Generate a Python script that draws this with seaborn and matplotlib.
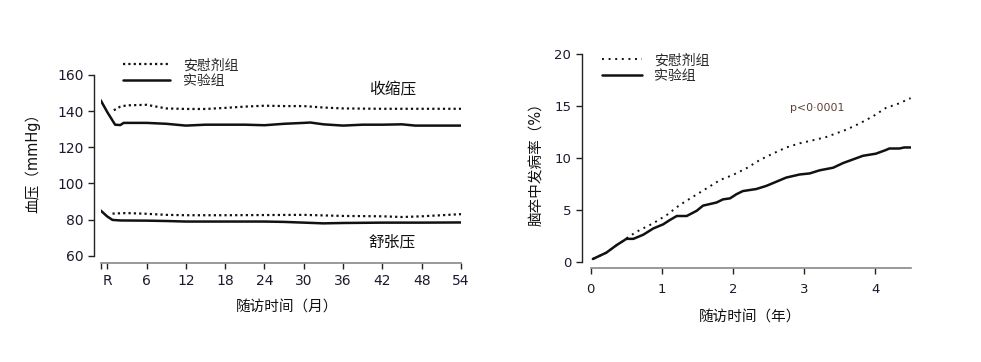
import numpy as np
import pandas as pd
import matplotlib
matplotlib.use('Agg')
import matplotlib.pyplot as plt
import seaborn as sns

# 左图：血压随访（月）
sbp_exp_m = [-1, 0, 1.2, 2, 2.5, 6, 9, 12, 15, 18, 21, 24, 27, 30, 31, 33, 36, 39, 42, 45, 47, 51, 54]
sbp_exp = [146, 139.5, 132.5, 132.3, 133.5, 133.5, 133, 132, 132.5, 132.5, 132.5, 132.2, 133, 133.5, 133.7,
           132.7, 132, 132.5, 132.5, 132.7, 132, 132, 132]
sbp_pla_m = [1, 2, 3, 6, 7.5, 9, 12, 15, 18, 21, 24, 27, 30, 33, 36, 42, 48, 54]
sbp_pla = [140.5, 142.5, 143.2, 143.5, 142.5, 141.5, 141.2, 141.2, 141.8, 142.5, 143, 142.8, 142.8, 142,
           141.5, 141.3, 141.3, 141.3]
dbp_exp_m = [-1, 0, 0.8, 2, 6, 9, 12, 18, 24, 27, 30, 33, 36, 42, 48, 54]
dbp_exp = [85, 81.7, 79.8, 79.5, 79.4, 79.2, 78.9, 78.9, 78.9, 78.7, 78.3, 77.9, 78.1, 78.3, 78.3, 78.4]
dbp_pla_m = [0.8, 3, 6, 9, 12, 18, 24, 30, 33, 36, 42, 45, 48, 51, 54]
dbp_pla = [83.3, 83.6, 83.2, 82.6, 82.4, 82.4, 82.5, 82.6, 82.3, 82, 81.8, 81.4, 81.8, 82.4, 83.0]
month_ticks = [-1, 0, 6, 12, 18, 24, 30, 36, 42, 48, 54]
month_labels = ['', 'R', '6', '12', '18', '24', '30', '36', '42', '48', '54']

# 右图：脑卒中累积发病率（年）
yr_exp = [0.03, 0.22, 0.365, 0.48, 0.5, 0.6, 0.74, 0.88, 1.02, 1.11, 1.21, 1.35, 1.49, 1.58, 1.77, 1.86,
          1.96, 2.05, 2.14, 2.33, 2.47, 2.61, 2.75, 2.94, 3.08, 3.22, 3.41, 3.55, 3.69, 3.83, 4.01, 4.15,
          4.2, 4.34, 4.41, 4.5]
inc_exp = [0.26, 0.87, 1.6, 2.1, 2.2, 2.2, 2.6, 3.2, 3.6, 4.0, 4.4, 4.4, 4.9, 5.4, 5.7, 6.0, 6.1, 6.5,
           6.8, 7.0, 7.3, 7.7, 8.1, 8.4, 8.5, 8.8, 9.05, 9.5, 9.85, 10.2, 10.4, 10.75, 10.9, 10.9, 11.0, 11.0]
yr_pla = [0.03, 0.22, 0.365, 0.48, 0.53, 0.69, 0.88, 1.07, 1.25, 1.44, 1.63, 1.82, 2.0, 2.19, 2.38, 2.56,
          2.75, 2.94, 3.13, 3.31, 3.59, 3.78, 3.97, 4.15, 4.34, 4.5]
inc_pla = [0.26, 0.87, 1.6, 2.1, 2.4, 3.05, 3.7, 4.5, 5.45, 6.26, 7.06, 7.87, 8.35, 9.0, 9.8, 10.4, 11.0,
           11.4, 11.7, 12.0, 12.7, 13.3, 14.0, 14.8, 15.25, 15.75]

sns.set_theme(style='ticks')
plt.rcParams['font.family'] = ['DejaVu Sans', 'Noto Sans CJK SC']
plt.rcParams['axes.unicode_minus'] = False

W, H = 981, 362
fig = plt.figure(figsize=(W / 100, H / 100), dpi=100)

def px_axes(l, t, r, b):
    return fig.add_axes([l / W, 1 - b / H, (r - l) / W, (b - t) / H])

ink = '#111111'
dot_l = (0, (1, 1.4))
dot_r = (0, (1, 2.4))

# ---- 左图 ----
ax1 = px_axes(100.7, 75, 461, 255.7)
sns.lineplot(x=sbp_pla_m, y=sbp_pla, ax=ax1, color=ink, lw=1.6, linestyle=dot_l, label='安慰剂组')
sns.lineplot(x=sbp_exp_m, y=sbp_exp, ax=ax1, color=ink, lw=1.8, label='实验组')
sns.lineplot(x=dbp_pla_m, y=dbp_pla, ax=ax1, color=ink, lw=1.6, linestyle=dot_l)
sns.lineplot(x=dbp_exp_m, y=dbp_exp, ax=ax1, color=ink, lw=1.8)
ax1.set_xlim(-1, 54)
ax1.set_ylim(60, 160)
ax1.set_xticks(month_ticks)
ax1.set_xticklabels(month_labels)
ax1.set_yticks([60, 80, 100, 120, 140, 160])
ax1.text(43.5, 151.7, '收缩压', fontsize=11.3, ha='center', va='center', color=ink)
ax1.text(43.5, 67.7, '舒张压', fontsize=11.3, ha='center', va='center', color=ink)
ax1.set_xlabel('随访时间（月）', fontsize=10.5, color=ink)
ax1.set_ylabel('血压（mmHg）', fontsize=10.5, color=ink)
ax1.xaxis.label.set_va('center')
ax1.yaxis.label.set_va('center')
ax1.xaxis.set_label_coords(0.517, -0.284)
ax1.yaxis.set_label_coords(-0.188, 0.53)
ax1.legend(loc='center left', bbox_to_anchor=(123 / W, 1 - 73 / H), bbox_transform=fig.transFigure,
           frameon=False, fontsize=10, handlelength=3.4, handletextpad=0.9, borderpad=0,
           borderaxespad=0, labelspacing=0.1)

# ---- 右图 ----
ax2 = px_axes(590.7, 54, 911, 261.7)
sns.lineplot(x=yr_pla, y=inc_pla, ax=ax2, color=ink, lw=1.4, linestyle=dot_r, label='安慰剂组')
sns.lineplot(x=yr_exp, y=inc_exp, ax=ax2, color=ink, lw=1.8, label='实验组')
ax2.set_xlim(0, 4.505)
ax2.set_ylim(0, 20)
ax2.set_xticks([0, 1, 2, 3, 4])
ax2.set_yticks([0, 5, 10, 15, 20])
ax2.text(3.19, 14.8, 'p<0·0001', fontsize=7.8, ha='center', va='center', color='#5c4033')
ax2.set_xlabel('随访时间（年）', fontsize=10.5, color=ink)
ax2.set_ylabel('脑卒中发病率（%）', fontsize=10.5, color=ink)
ax2.xaxis.label.set_va('center')
ax2.yaxis.label.set_va('center')
ax2.xaxis.set_label_coords(0.497, -0.266)
ax2.yaxis.set_label_coords(-0.169, 0.485)
ax2.legend(loc='center left', bbox_to_anchor=(602 / W, 1 - 68 / H), bbox_transform=fig.transFigure,
           frameon=False, fontsize=10, handlelength=2.9, handletextpad=0.85, borderpad=0,
           borderaxespad=0, labelspacing=0.1)

for ax, lo, bo, fs in [(ax1, 4.6, 5.0, 10), (ax2, 6.5, 4.5, 9.5)]:
    sns.despine(ax=ax)
    ax.spines['left'].set_position(('outward', lo))
    ax.spines['bottom'].set_position(('outward', bo))
    ax.spines['left'].set_color('#222222')
    ax.spines['bottom'].set_color('#888888')
    ax.spines['left'].set_linewidth(1.0)
    ax.spines['bottom'].set_linewidth(1.2)
    ax.tick_params(axis='both', length=4.5, width=1.0, color='#222222', labelsize=fs,
                   labelcolor='#1a1a2e', pad=3)
    ax.tick_params(axis='x', pad=4 if ax is ax1 else 6.5)
    ax.grid(False)

fig.savefig('out.png', dpi=100)
